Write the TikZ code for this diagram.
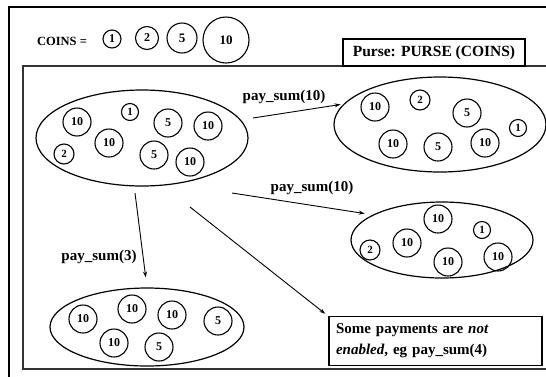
\documentclass[tikz,border=0pt]{standalone}
\usepackage{fontspec}
\setmainfont{Liberation Serif}
\usetikzlibrary{arrows.meta,shapes.geometric}

\tikzset{
  coin/.style={circle, draw, line width=1.1pt, inner sep=0pt, minimum size=28pt,
    font=\bfseries\fontsize{12}{12}\selectfont},
  coinone/.style={coin, minimum size=17pt, font=\bfseries\fontsize{11}{11}\selectfont},
  cointwo/.style={coin, minimum size=20pt, font=\bfseries\fontsize{11}{11}\selectfont},
  purse/.style={ellipse, draw, line width=1.2pt, inner sep=0pt},
  pay/.style={-{Stealth[length=6pt,width=4pt]}, line width=0.9pt},
  lbl/.style={font=\bfseries\fontsize{15}{15}\selectfont},
}

\begin{document}
\begin{tikzpicture}[x=1pt, y=-1pt]
  \useasboundingbox (0,0) rectangle (546,376);
  \clip (0,0) rectangle (546,376);

  % frames
  \draw[line width=1.6pt] (9,7) rectangle (580,400);
  \draw[line width=1.3pt, black!80] (23,66) rectangle (570,369);

  % coin kinds
  \node[font=\bfseries\fontsize{12.5}{12.5}\selectfont] (coins) at (62,41) {COINS =};
  \node[coin, minimum size=18pt, font=\bfseries\fontsize{12}{12}\selectfont] (k1) at (112,39) {1};
  \node[coin, minimum size=23pt, font=\bfseries\fontsize{12}{12}\selectfont] (k2) at (147,38) {2};
  \node[coin, minimum size=30pt, font=\bfseries\fontsize{13}{13}\selectfont] (k5) at (182,38) {5};
  \node[coin, minimum size=46pt, font=\bfseries\fontsize{13}{13}\selectfont] (k10) at (226,40) {10};

  \node[draw, fill=white, line width=1.3pt, minimum width=182pt, minimum height=27pt,
        inner sep=0pt, font=\bfseries\fontsize{15.5}{15.5}\selectfont] (title) at (434,52.5)
        {Purse: PURSE (COINS)};

  % purses
  \node[purse, minimum width=212pt, minimum height=96pt] (pA) at (142,138) {};
  \node[purse, minimum width=212pt, minimum height=95pt] (pB) at (440,124.5) {};
  \node[purse, minimum width=182pt, minimum height=76pt] (pC) at (442,240) {};
  \node[purse, minimum width=194pt, minimum height=78pt] (pD) at (147,327) {};

  % coins in each purse
  \foreach \x/\y/\v/\s [count=\i] in {77/122/10/coin, 130/112/1/coinone, 168/123/5/coin,
      208/126/10/coin, 109/143/10/coin, 64/154/2/cointwo, 154/155/5/coin, 190/162/10/coin}
    \node[\s] (a\i) at (\x,\y) {\v};
  \foreach \x/\y/\v/\s [count=\i] in {375/107/10/coin, 420/100/2/cointwo, 467/113/5/coin,
      518/128/1/coinone, 393/144/10/coin, 438/147/5/coin, 485/143/10/coin}
    \node[\s] (b\i) at (\x,\y) {\v};
  \foreach \x/\y/\v/\s [count=\i] in {438/219/10/coin, 482/230/1/coinone, 407/243/10/coin,
      370/250/2/cointwo, 448/262/10/coin, 498/257/10/coin}
    \node[\s] (c\i) at (\x,\y) {\v};
  \foreach \x/\y/\v/\s [count=\i] in {83/319/10/coin, 132/309/10/coin, 172/315/10/coin,
      218/321/5/coin, 114/343/10/coin, 159/347/5/coin}
    \node[\s] (d\i) at (\x,\y) {\v};

  % note
  \node[draw, line width=1.2pt, minimum width=213pt, minimum height=46pt, inner sep=7pt,
        text width=199pt, align=left, font=\bfseries\fontsize{15}{21}\selectfont]
        (note) at (435.5,341)
        {Some payments are \textit{not}\\\textit{enabled}, eg pay\_sum(4)};

  % payments
  \coordinate (s1) at (253,118);
  \coordinate (s2) at (232,193);
  \coordinate (s3) at (135,193);
  \coordinate (s4) at (190,207);
  \draw[pay, shorten >=3pt] (s1) -- (pB.168);
  \draw[pay, shorten >=8pt] (s2) -- (pC.160);
  \draw[pay, shorten >=10pt] (s3) -- (pD.north);
  \draw[pay, shorten >=4pt] (s4) -- (note.north west);

  \node[lbl] (l1) at (284,97) {pay\_sum(10)};
  \node[lbl] (l2) at (312,188) {pay\_sum(10)};
  \node[lbl] (l3) at (99,257) {pay\_sum(3)};
\end{tikzpicture}
\end{document}
